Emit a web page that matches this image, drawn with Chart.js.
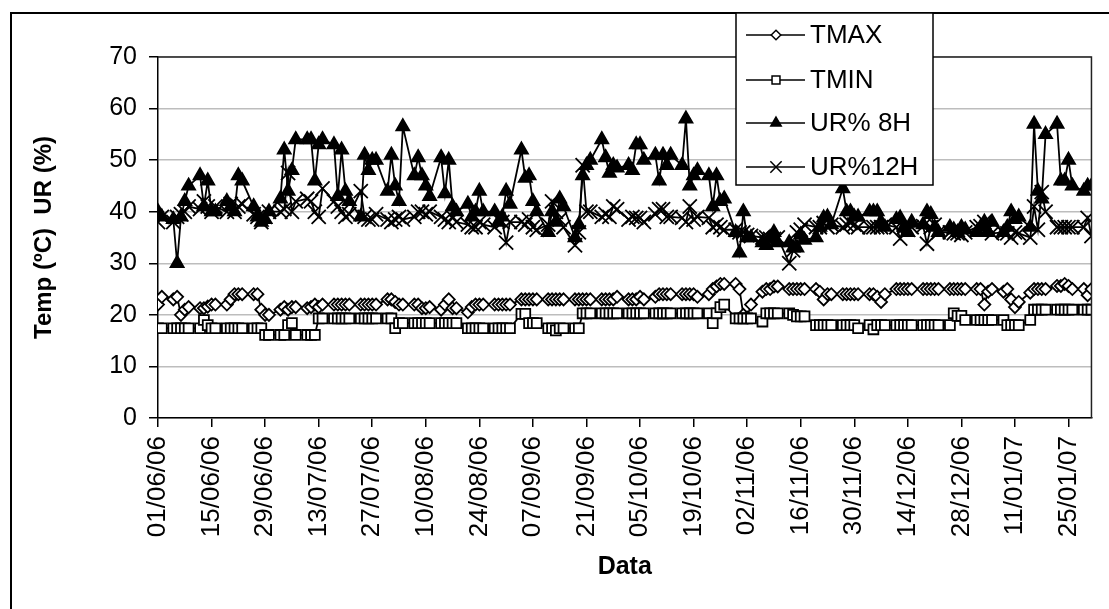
<!DOCTYPE html>
<html>
<head>
<meta charset="utf-8">
<script src="https://cdn.jsdelivr.net/npm/chart.js@4/dist/chart.umd.min.js"></script>
<style>
  html, body { margin: 0; padding: 0; background: #fff; }
  canvas { display: block; }
</style>
</head>
<body>
<canvas id="grafico" width="1109" height="609"></canvas>
<script>
// Tick labels every 14 days, starting 01/06/06
const tickLabels = ["01/06/06", "15/06/06", "29/06/06", "13/07/06", "27/07/06", "10/08/06",
  "24/08/06", "07/09/06", "21/09/06", "05/10/06", "19/10/06", "02/11/06", "16/11/06",
  "30/11/06", "14/12/06", "28/12/06", "11/01/07", "25/01/07"];

const seriesNames = ["TMAX", "TMIN", "UR% 8H", "UR%12H"];

// one value per weekday, 01/06/06 (Thu) .. 31/01/07 (Wed)
const tmax = [
  22, 23.5,
  23, 23.5, 20, 21, 21.5,   21.3, 21.3, 21.6, 22, 22,   22, 23, 24, 24, 24,   24, 24, 21, 20, 20,
  21, 21.5, 21, 21.5, 21.5,   21.3, 21.5, 22, 21.5, 22,   22, 22, 22, 22, 22,   22, 22, 22, 22, 22,
  23, 23, 22.5, 22, 22,   22, 22, 21.3, 21.3, 21.5,   21, 22, 23, 21.3, 21.3,   20.5, 21.5, 22, 22, 22,
  22, 22, 22, 22, 22,   23, 23, 23, 23, 23,   23, 23, 23, 23, 23,   23, 23, 23, 23, 23,
  23, 23, 23, 23, 23.5,   23, 23, 23, 23.5, 23,   23.5, 24, 24, 24, 24,   24, 24, 24, 24, 23.5,
  24, 25, 25.5, 26, 26,   26, 25, 20, 19.5, 22,   24.5, 25, 25, 25.5, 25.5,   25, 25, 25, 25, 25,
  25, 24.5, 23, 24, 24,   24, 24, 24, 24, 24,   24, 24, 23.5, 22.5, 24,   25, 25, 25, 25, 25,
  25, 25, 25, 25, 25,   25, 25, 25, 25, 25,   25, 25, 22, 24.5, 25,   24.5, 25, 23, 21.5, 22.5,
  24.3, 25, 25, 25, 25,   25.6, 25.6, 26, 25.6, 25,
  25, 23.8, 25
];
const tmin = [
  17.4, 17.4,
  17.4, 17.4, 17.4, 17.4, 17.4,   17.4, 19, 18, 17.4, 17.4,   17.4, 17.4, 17.4, 17.4, 17.4,   17.4, 17.4, 17.4, 16.1, 16.1,
  16.1, 16.1, 18, 18.4, 16.1,   16.1, 16.1, 16.1, 19.3, 19.3,   19.3, 19.3, 19.3, 19.3, 19.3,   19.3, 19.3, 19.3, 19.3, 19.3,
  19.3, 19.3, 17.4, 18.4, 18.4,   18.4, 18.4, 18.4, 18.4, 18.4,   18.4, 18.4, 18.4, 18.4, 18.4,   17.4, 17.4, 17.4, 17.4, 17.4,
  17.4, 17.4, 17.4, 17.4, 17.4,   20.2, 20.2, 18.4, 18.4, 18.4,   17.4, 17.4, 17, 17.4, 17.4,   17.4, 17.4, 20.3, 20.3, 20.3,
  20.3, 20.3, 20.3, 20.3, 20.3,   20.3, 20.3, 20.3, 20.3, 20.3,   20.3, 20.3, 20.3, 20.3, 20.3,   20.3, 20.3, 20.3, 20.3, 20.3,
  20.3, 18.4, 20.3, 21.5, 22,   19.3, 19.3, 19.3, 19.3, 19.3,   18.7, 20.3, 20.3, 20.3, 20.3,   20.3, 20, 19.7, 19.7, 19.7,
  18, 18, 18, 18, 18,   18, 18, 18, 18, 17.4,   18, 17.2, 18, 18, 18,   18, 18, 18, 18, 18,
  18, 18, 18, 18, 18,   18, 20.3, 19.8, 19.8, 19,   19, 19, 19, 19, 19,   19, 18, 18, 18, 18,
  19, 21, 21, 21, 21,   21, 21, 21, 21, 21,
  21, 21, 21
];
const ur8h = [
  40, 39,
  38.5, 30, 39, 42, 45,   47, 41, 46, 40, 40,   42, 41, 40, 47, 46,   41, 39, 38, 38.5, 40,
  42.5, 52, 44, 48, 54,   54, 54, 46, 53, 54,   53, 43, 52, 44, 42,   39, 51, 48, 50, 50,
  44, 51, 45, 42, 56.5,   47, 50.5, 47, 45, 43,   50.5, 43.5, 50, 41, 40,   41.5, 39, 40, 44, 40,
  40, 38, 39, 44, 41.5,   52, 46.5, 47, 42, 40,   36, 40, 38, 42.5, 41,   35, 37.5, 47, 49, 50,
  54, 50.5, 47.5, 49, 48.5,   49, 48, 53, 53, 50,   51, 46, 51, 49, 51,   49, 58, 45, 47, 48,
  47, 41, 47, 42, 42.5,   36, 32, 40, 35, 35,   34, 33.5, 35, 36, 34,   34, 33, 33, 35.5, 34.5,
  35, 37, 38.8, 39, 37.5,   44.5, 40, 40, 39, 39,   40, 40, 40, 38, 37,   38.5, 38.8, 37, 36, 38,
  37.5, 40, 39.5, 37, 36,   37, 36.5, 36, 37, 36.5,   36, 37, 38, 36, 38,   36, 37, 40, 38.5, 39,
  37, 57, 44, 42.5, 55,   57, 46, 46, 50, 45,
  44, 45, 45
];
const ur12h = [
  38, 39,
  38, 39, 39.5, 40, 41,   40.5, 42, 41, 40, 41,   40, 41.5, 40, 41, 41.5,   39.5, 39, 38, 39, 40,
  40, 40.5, 47.5, 40, 42,   42.5, 42, 40, 39, 44.5,   42, 41, 40, 39, 39.5,   44, 39, 38.5, 38.5, 39.5,
  38.5, 38, 38.5, 39, 38.5,   39, 40, 40, 39.5, 40,   39, 38.5, 38, 39, 38,   37.5, 37, 37, 38, 37.5,
  37, 38.5, 38, 34, 38,   38, 37.5, 38.5, 37, 36.5,   37.5, 42, 40, 38.5, 37,   33.5, 36, 49, 40, 40,
  39, 39.5, 39, 41, 40.5,   38.5, 39, 38.8, 38.8, 38,   39.5, 40.5, 40.5, 39, 39,   38.8, 38, 41, 38.5, 39,
  38.8, 37, 37.5, 37, 36.5,   36.5, 36, 36, 35.5, 35.3,   35, 35, 34.7, 34.7, 35,   30, 32.5, 36, 36.5, 37.5,
  37, 37, 37.8, 37, 37.5,   37, 37.5, 37.8, 37.5, 37,   37, 37, 37, 37, 37.5,   37, 34.8, 37, 36.5, 37,
  37.2, 33.8, 37, 37.5, 36,   36, 35.8, 35.8, 35.5, 36,   37, 37.2, 38, 37, 35.8,   36, 35.8, 35, 36, 35.8,
  35, 41, 36.5, 43.8, 40,   37, 37, 37, 37, 37,
  37, 38.8, 35.3
];

// Weekday offsets (days since 01/06/06); 01/06/06 was a Thursday
const lastDay = 244;
const weekdays = [];
for (let d = 0; d <= lastDay; d++) {
  const dow = (d + 4) % 7; // 0 = Sunday
  if (dow !== 0 && dow !== 6) weekdays.push(d);
}

function toPoints(values) {
  return values.map((v, i) => ({ x: weekdays[i], y: v }));
}

const baseFont = "'Liberation Sans', Arial, sans-serif";

// Outer frame, plot-area border and the legend box
const frame = {
  id: "frame",
  beforeDraw(chart) {
    const ctx = chart.ctx;
    ctx.save();
    ctx.strokeStyle = "#000";
    ctx.lineWidth = 2;
    ctx.beginPath();
    ctx.moveTo(11, 640);
    ctx.lineTo(11, 13);
    ctx.lineTo(1140, 13);
    ctx.stroke();
    ctx.restore();
  },
  afterDatasetsDraw(chart) {
    const { ctx, chartArea: a } = chart;
    ctx.save();
    ctx.strokeStyle = "#222";
    ctx.lineWidth = 1.5;
    ctx.beginPath();
    ctx.moveTo(a.left, a.top);
    ctx.lineTo(a.right, a.top);
    ctx.lineTo(a.right, a.bottom);
    ctx.stroke();

    // legend
    const box = { x: 736, y: 13, w: 197, h: 172 };
    ctx.fillStyle = "#fff";
    ctx.fillRect(box.x, box.y, box.w, box.h);
    ctx.strokeStyle = "#000";
    ctx.lineWidth = 1.5;
    ctx.strokeRect(box.x, box.y, box.w, box.h);
    const rows = [35, 80, 123, 167];
    ctx.textBaseline = "middle";
    chart.data.datasets.forEach((ds, i) => {
      const y = rows[i];
      ctx.strokeStyle = "#000";
      ctx.lineWidth = 1.5;
      ctx.beginPath();
      ctx.moveTo(746, y);
      ctx.lineTo(805, y);
      ctx.stroke();
      ctx.fillStyle = ds.pointBackgroundColor;
      ctx.strokeStyle = "#000";
      Chart.helpers.drawPoint(ctx, {
        pointStyle: ds.pointStyle,
        radius: ds.pointRadius * 0.8,
        borderWidth: 1.5
      }, 776, y);
      ctx.fillStyle = "#000";
      ctx.font = "26px " + baseFont;
      ctx.fillText(ds.label, 810, y + 1);
    });
    ctx.restore();
  }
};

const datasets = [
  { label: seriesNames[0], data: toPoints(tmax), pointStyle: "rectRot", pointRadius: 6,
    pointBackgroundColor: "#fff", order: 4 },
  { label: seriesNames[1], data: toPoints(tmin), pointStyle: "rect", pointRadius: 7,
    pointBackgroundColor: "#fff", order: 3 },
  { label: seriesNames[2], data: toPoints(ur8h), pointStyle: "triangle", pointRadius: 7.5,
    pointBackgroundColor: "#000", order: 2 },
  { label: seriesNames[3], data: toPoints(ur12h), pointStyle: "crossRot", pointRadius: 10,
    pointBackgroundColor: "#000", order: 1 }
].map(ds => Object.assign({
  borderColor: "#000",
  borderWidth: 1.8,
  pointBorderColor: "#000",
  pointBorderWidth: 1.8,
  pointHoverRadius: 0,
  tension: 0,
  fill: false
}, ds));

new Chart(document.getElementById("grafico"), {
  type: "line",
  data: { datasets: datasets },
  options: {
    responsive: false,
    animation: false,
    devicePixelRatio: 1,
    layout: { padding: { left: 0, top: 57, right: 8, bottom: 0 } },
    plugins: { legend: { display: false }, tooltip: { enabled: false } },
    scales: {
      x: {
        type: "linear",
        min: 0,
        max: lastDay,
        afterFit: s => { s.height = 191; },
        ticks: {
          stepSize: 14,
          includeBounds: false,
          autoSkip: false,
          minRotation: 90,
          maxRotation: 90,
          padding: 9,
          color: "#000",
          font: { family: baseFont, size: 26 },
          callback: v => tickLabels[v / 14]
        },
        grid: { drawOnChartArea: false, color: "#000", tickLength: 9, lineWidth: 1.5 },
        border: { color: "#000", width: 1.5 },
        title: {
          display: true,
          text: "Data",
          color: "#000",
          font: { family: baseFont, size: 25, weight: "bold" },
          padding: { top: 0, bottom: 27 }
        }
      },
      y: {
        min: 0,
        max: 70,
        afterFit: s => { s.width = 158; },
        ticks: {
          stepSize: 10,
          padding: 12,
          color: "#000",
          font: { family: baseFont, size: 25 }
        },
        grid: { color: "#bdbdbd", lineWidth: 1.5, tickColor: "#000", tickLength: 9 },
        border: { color: "#000", width: 1.5 },
        title: {
          display: true,
          text: "Temp (\u00baC)  UR (%)",
          color: "#000",
          font: { family: baseFont, size: 24, weight: "bold" },
          padding: { top: 30, bottom: 0 }
        }
      }
    }
  },
  plugins: [frame]
});
</script>
</body>
</html>
